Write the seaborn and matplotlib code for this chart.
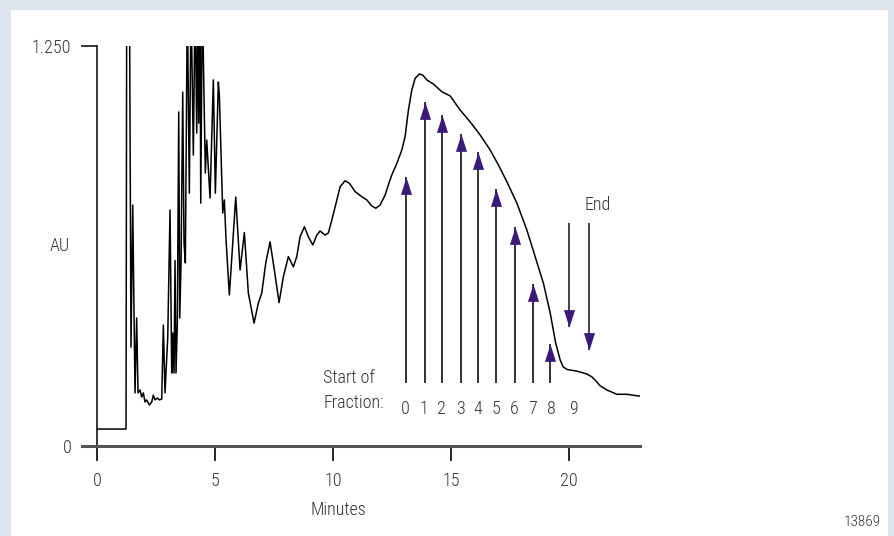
import matplotlib
matplotlib.use("Agg")
import matplotlib.pyplot as plt
import matplotlib.patches as mpatches
from matplotlib import font_manager
import seaborn as sns
import numpy as np
import pandas as pd

# ---------------- data ----------------
time_min = [0.0, 1.23, 1.26, 1.37, 1.44, 1.513, 1.61, 1.68, 1.737, 1.822, 1.894, 1.962,
            2.034, 2.106, 2.216, 2.318, 2.386, 2.458, 2.555, 2.64, 2.742, 2.81, 2.88,
            2.996, 3.093, 3.165, 3.208, 3.263, 3.305, 3.347, 3.403, 3.462, 3.504, 3.56,
            3.631, 3.686, 3.742, 3.826, 3.911, 3.983, 4.081, 4.153, 4.225, 4.267, 4.309,
            4.364, 4.394, 4.462, 4.589, 4.648, 4.788, 4.928, 5.013, 5.14, 5.182, 5.326,
            5.394, 5.466, 5.606, 5.877, 6.06, 6.242, 6.41, 6.653, 6.835, 6.979, 7.148,
            7.33, 7.513, 7.712, 7.894, 8.106, 8.318, 8.462, 8.602, 8.784, 8.953, 9.14,
            9.309, 9.449, 9.661, 9.801, 9.945, 10.127, 10.297, 10.508, 10.691, 10.932,
            11.216, 11.428, 11.64, 11.81, 11.99, 12.203, 12.386, 12.487, 12.699, 12.911,
            13.051, 13.191, 13.335, 13.475, 13.657, 13.801, 13.97, 14.25, 14.606, 14.958,
            15.381, 15.805, 16.229, 16.653, 17.004, 17.36, 17.784, 18.208, 18.559, 18.911,
            19.195, 19.428, 19.619, 19.746, 19.915, 20.326, 20.75, 20.962, 21.174, 21.314,
            21.598, 22.021, 22.445, 22.869, 23.0]
au = [0.053, 0.053, 1.5, 1.5, 0.309, 0.753, 0.166, 0.4, 0.166, 0.175, 0.153, 0.166,
      0.1375, 0.144, 0.128, 0.1375, 0.159, 0.144, 0.15, 0.144, 0.147, 0.378, 0.166,
      0.3375, 0.7375, 0.228, 0.353, 0.228, 0.58, 0.228, 0.384, 1.044, 0.4, 0.572,
      1.106, 0.634, 0.572, 1.4, 0.79, 1.4, 0.909, 1.4, 0.978, 1.4, 1.009,
      1.4, 0.759, 1.4, 0.853, 0.956, 0.775, 1.144, 0.79, 1.1375, 1.097, 0.728,
      0.769, 0.644, 0.472, 0.778, 0.55, 0.667, 0.478, 0.384, 0.447, 0.478, 0.572,
      0.638, 0.55, 0.448, 0.529, 0.592, 0.56, 0.592, 0.654, 0.685, 0.654, 0.628,
      0.659, 0.672, 0.659, 0.666, 0.706, 0.759, 0.81, 0.829, 0.821, 0.795,
      0.779, 0.769, 0.75, 0.743, 0.753, 0.784, 0.826, 0.847, 0.883, 0.925,
      0.967, 1.05, 1.1125, 1.149, 1.1625, 1.159, 1.144, 1.131, 1.107, 1.094,
      1.05, 1.013, 0.972, 0.925, 0.878, 0.826, 0.759, 0.675, 0.592, 0.508,
      0.416, 0.322, 0.269, 0.247, 0.239, 0.234, 0.225, 0.216, 0.2, 0.188,
      0.175, 0.1616, 0.1616, 0.157, 0.156]

fraction_labels = ["0", "1", "2", "3", "4", "5", "6", "7", "8", "9"]
fraction_start_min = [13.09, 13.89, 14.63, 15.41, 16.14, 16.92, 17.71, 18.45, 19.19]
fraction_tip_au = [0.84, 1.076, 1.034, 0.975, 0.918, 0.802, 0.685, 0.506, 0.319]
fraction_label_min = [13.05, 13.85, 14.61, 15.38, 16.14, 16.91, 17.67, 18.47, 19.24, 20.17]
arrow_base_au = 0.196
label_au = 0.116

end_min = [20.01, 20.82]
end_top_au = 0.696
end_tip_au = [0.373, 0.30]

x_ticks = [0, 5, 10, 15, 20]
y_ticks = [0, 1.25]
y_tick_labels = ["0", "1.250"]

# ---------------- styling ----------------
sns.set_theme(style="white")
names = {f.name for f in font_manager.fontManager.ttflist}
narrow = [n for n in ["Liberation Sans Narrow", "Roboto Condensed", "Open Sans Condensed"]
          if n in names]
plt.rcParams["font.family"] = narrow + ["DejaVu Sans"]
plt.rcParams["font.stretch"] = "condensed"
plt.rcParams["font.weight"] = "light"
plt.rcParams["axes.labelweight"] = "light"
fs = 13 if narrow else 11.5
text_color = "#333333"
arrow_color = "#3b1a7a"

fig = plt.figure(figsize=(8.94, 5.36), dpi=100)
fig.patch.set_facecolor("#dde5ef")
fig.patches.append(mpatches.Rectangle((11 / 894, 0), 877 / 894, 526 / 536,
                                      transform=fig.transFigure, facecolor="white",
                                      edgecolor="none", zorder=-10))

ax = fig.add_axes([97 / 894, 90 / 536, 543 / 894, 400 / 536])
ax.set_facecolor("none")
ax.set_zorder(5)

df = pd.DataFrame({"Minutes": time_min, "AU": au})
sns.lineplot(data=df, x="Minutes", y="AU", sort=False, estimator=None,
             color="black", linewidth=1.1, ax=ax, zorder=3)

ax.set_xlim(0, 23)
ax.set_ylim(0, 1.25)

# fraction arrows
up_head = mpatches.Path([(0, 0), (-0.32, -1), (0.32, -1), (0, 0)])
down_head = mpatches.Path([(0, 0), (-0.32, 1), (0.32, 1), (0, 0)])
ax.vlines(fraction_start_min, arrow_base_au, fraction_tip_au, color="#111111",
          linewidth=1.2, zorder=2)
ax.plot(fraction_start_min, fraction_tip_au, linestyle="none", marker=up_head,
        markersize=25, markerfacecolor=arrow_color, markeredgewidth=0, zorder=4)
ax.vlines(end_min, end_tip_au, end_top_au, color="#222222", linewidth=1.2, zorder=2)
ax.plot(end_min, end_tip_au, linestyle="none", marker=down_head,
        markersize=25, markerfacecolor=arrow_color, markeredgewidth=0, zorder=4)

for xm, lab in zip(fraction_label_min, fraction_labels):
    ax.text(xm, label_au, lab, ha="center", va="center", fontsize=fs, color=text_color)

ax.text(9.58, 0.173, "Start of\nFraction:", ha="left", va="center", fontsize=fs,
        color=text_color, linespacing=1.45)
ax.text(21.19, 0.753, "End", ha="center", va="center", fontsize=fs, color=text_color)

# axes styling
for s in ["top", "right"]:
    ax.spines[s].set_visible(False)
ax.spines["left"].set_color("black")
ax.spines["left"].set_linewidth(1.1)
ax.spines["bottom"].set_color("#555555")
ax.spines["bottom"].set_linewidth(2.2)
ax.spines["bottom"].set_bounds(-0.65, 23)

ax.set_xticks(x_ticks)
ax.set_xticklabels([str(t) for t in x_ticks])
ax.set_yticks(y_ticks)
ax.set_yticklabels(y_tick_labels)
ax.tick_params(axis="x", direction="out", length=11, width=1.2, color="black",
               pad=8, labelsize=fs, labelcolor=text_color, bottom=True)
ax.tick_params(axis="y", direction="out", length=11.5, width=1.1, color="black",
               pad=7, labelsize=fs, labelcolor=text_color, left=True)

ax.set_xlabel("Minutes", fontsize=fs, color=text_color, fontweight="light")
ax.xaxis.set_label_coords(0.444, -0.16)
ax.xaxis.label.set_va("center")
ax.set_ylabel("AU", fontsize=fs, color=text_color, rotation=0, fontweight="light")
ax.yaxis.set_label_coords(-0.068, 0.5)
ax.yaxis.label.set_va("center")
ax.yaxis.label.set_ha("center")

fig.text(862 / 894, 1 - 522 / 536, "13869", ha="center", va="center",
         fontsize=fs - 2, color=text_color)

fig.savefig("out.png", dpi=100, facecolor=fig.get_facecolor())
